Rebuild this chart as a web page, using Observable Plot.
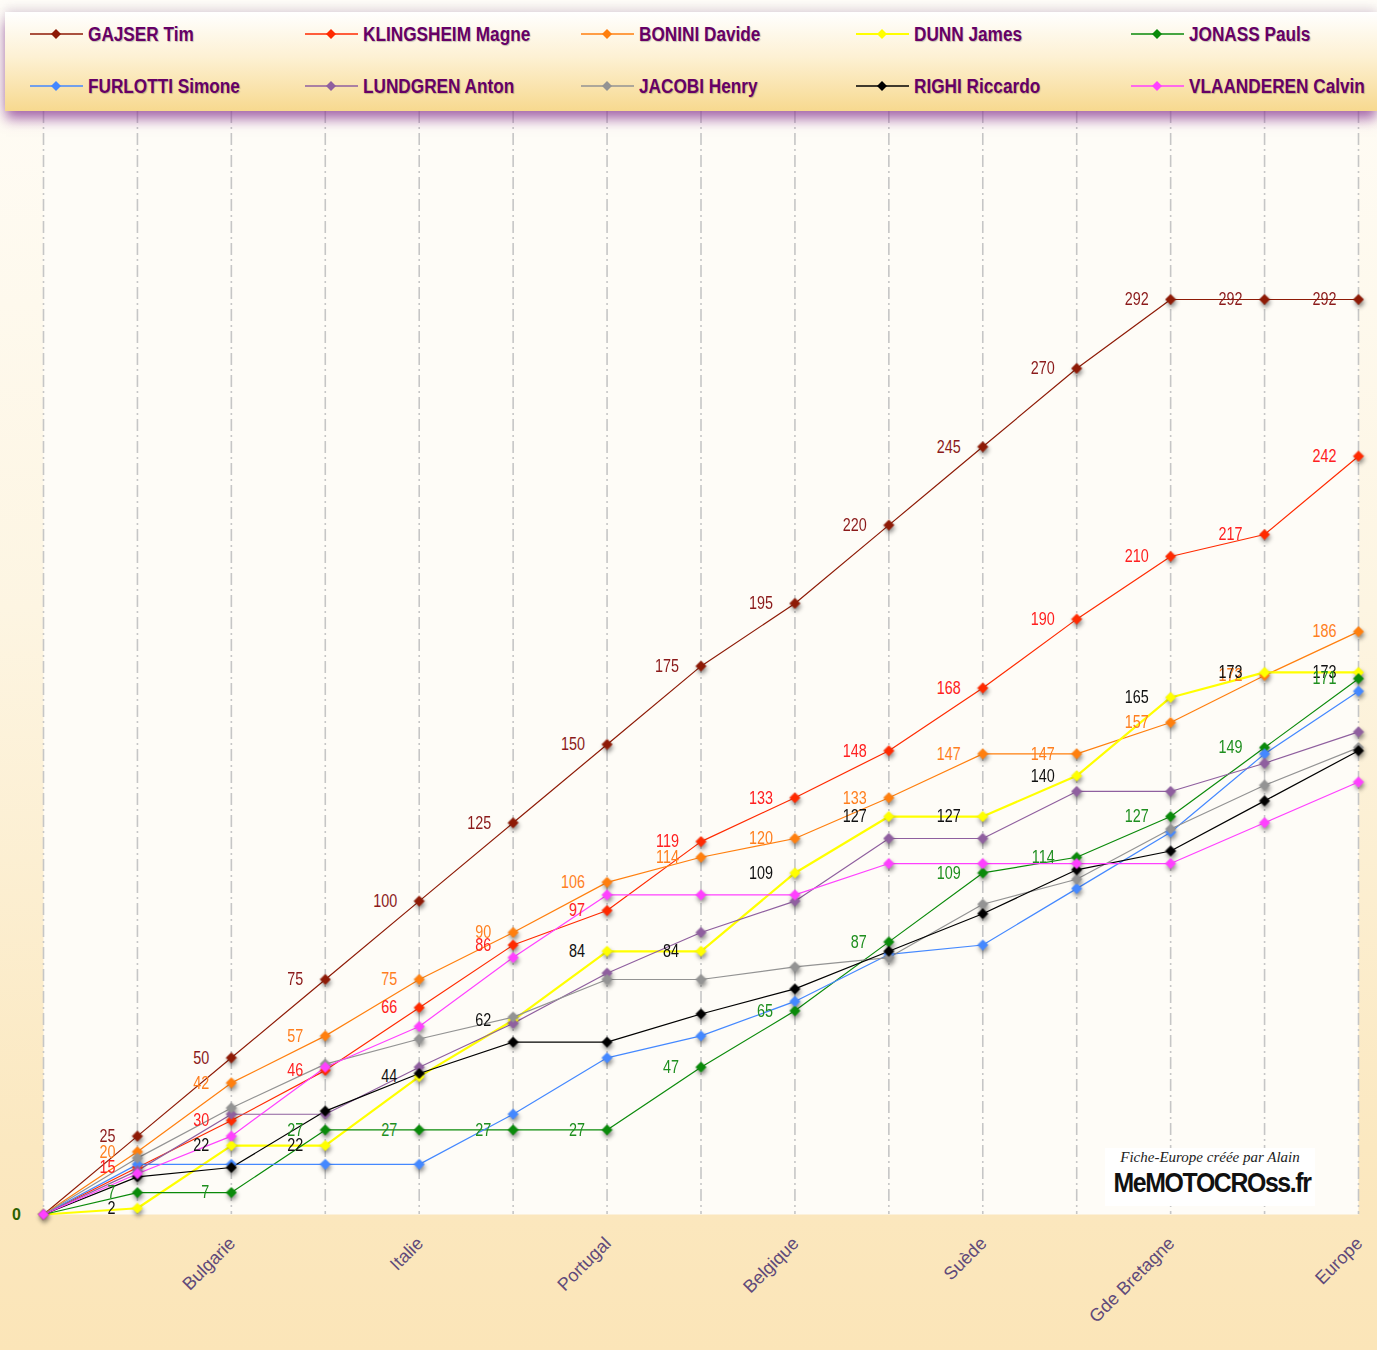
<!DOCTYPE html>
<html>
<head>
<meta charset="utf-8">
<script src="https://cdn.jsdelivr.net/npm/d3@7"></script>
<script src="https://cdn.jsdelivr.net/npm/@observablehq/plot@0.6"></script>
<style>
  body { margin: 0; }
  #wrap { position: relative; width: 1377px; height: 1350px; overflow: hidden;
    background: linear-gradient(to bottom, #fffdf8 0%, #fdf5e2 45%, #fbe8c0 85%, #fbe5b8 100%); }
  #legend { position: absolute; z-index: 2; left: 5px; top: 12px; width: 1372px; height: 99px;
    background: linear-gradient(to bottom, #ffffff 0%, #fdf1d4 45%, #f7d98f 100%);
    box-shadow: 0 9px 12px -1px rgba(140, 60, 150, 0.75), 0 -3px 10px rgba(120, 90, 130, 0.22); }
  .item { position: absolute; height: 24px; }
  .item svg { position: absolute; left: 0; top: 6px; }
  .item span { position: absolute; left: 58px; top: 0; white-space: nowrap;
    font: bold 20px "Liberation Sans", Arial, sans-serif; color: #660066;
    transform: scaleX(0.86); transform-origin: 0 50%;
    text-shadow: 1px 1px 1px rgba(0,0,0,0.22); line-height: 24px; }
  #chart { position: absolute; left: 0; top: 111px; }
  #mark { position: absolute; left: 1105px; top: 1148px; width: 210px; height: 58px; background: #ffffff; text-align: center; }
  #mark .l1 { font: italic 15px "Liberation Serif", serif; color: #222; margin-top: 1px; }
  #mark .l2 { font: bold 27px "Liberation Sans", sans-serif; color: #111; letter-spacing: -1.5px; line-height: 34px;
    display: inline-block; transform: scaleX(0.92); }
</style>
</head>
<body>
<div id="wrap">
  <div id="legend"></div>
  <div id="chart"></div>
  <div id="mark"><div class="l1">Fiche-Europe créée par Alain</div><div class="l2">MeMOTOCROss.fr</div></div>
</div>
<script>
// ---- data ----
const rounds = ["", "", "Bulgarie", "", "Italie", "", "Portugal", "", "Belgique", "", "Suède", "", "Gde Bretagne", "", "Europe"];
const riders = ["GAJSER  Tim", "KLINGSHEIM Magne", "BONINI Davide", "DUNN James", "JONASS Pauls",
                "FURLOTTI Simone", "LUNDGREN Anton", "JACOBI Henry", "RIGHI Riccardo", "VLAANDEREN Calvin"];
const gajser     = [0, 25, 50, 75, 100, 125, 150, 175, 195, 220, 245, 270, 292, 292, 292];
const klingsheim = [0, 15, 30, 46, 66, 86, 97, 119, 133, 148, 168, 190, 210, 217, 242];
const bonini     = [0, 20, 42, 57, 75, 90, 106, 114, 120, 133, 147, 147, 157, 172, 186];
const dunn       = [0, 2, 22, 22, 44, 62, 84, 84, 109, 127, 127, 140, 165, 173, 173];
const jonass     = [0, 7, 7, 27, 27, 27, 27, 47, 65, 87, 109, 114, 127, 149, 171];
const furlotti   = [0, 16, 16, 16, 16, 32, 50, 57, 68, 83, 86, 104, 122, 147, 167];
const lundgren   = [0, 14, 32, 32, 47, 61, 77, 90, 100, 120, 120, 135, 135, 144, 154];
const jacobi     = [0, 18, 34, 48, 56, 63, 75, 75, 79, 82, 99, 107, 123, 137, 149];
const righi      = [0, 12, 15, 33, 45, 55, 55, 64, 72, 84, 96, 110, 116, 132, 148];
const vlaanderen = [0, 13, 25, 47, 60, 82, 102, 102, 102, 112, 112, 112, 112, 125, 138];
const seriesValues = [gajser, klingsheim, bonini, dunn, jonass, furlotti, lundgren, jacobi, righi, vlaanderen];

// ---- styles ----
const colors = ["#8e1a06", "#ff2a00", "#ff7f0e", "#ffff00", "#0a8a0a", "#4488ff", "#8f5f9f", "#939393", "#000000", "#ff40ff"];
const labelColors = ["#8b1a1a", "#ff2020", "#ff7f1f", "#111111", "#1f8f1f"]; // first 5 riders are labelled

const data = [];
riders.forEach((name, si) => seriesValues[si].forEach((v, i) => data.push({name, si, i, v})));

// ---- legend ----
const legend = d3.select("#legend");
riders.forEach((name, si) => {
  const col = si % 5, row = Math.floor(si / 5);
  const it = legend.append("div").attr("class", "item")
    .style("left", (25 + col * 275.25) + "px").style("top", (10 + row * 52) + "px");
  const sw = it.append("svg").attr("width", 54).attr("height", 12);
  sw.append("line").attr("x1", 0).attr("x2", 53).attr("y1", 6).attr("y2", 6)
    .attr("stroke", colors[si]).attr("stroke-width", si === 3 ? 2 : 1.5);
  sw.append("path").attr("d", "M26,1L31,6L26,11L21,6Z").attr("fill", colors[si]);
  it.append("span").text(name);
});

// ---- chart ----
const idx = d3.range(rounds.length);
const lineMarks = riders.map((name, si) =>
  Plot.line(data.filter(d => d.si === si), {x: "i", y: "v", stroke: colors[si], strokeWidth: si === 3 ? 2.2 : 1.2}));
const labelMarks = labelColors.map((c, si) =>
  Plot.text(data.filter(d => d.si === si && d.i > 0), {x: "i", y: "v", text: d => String(d.v),
    fill: c, textAnchor: "end", dx: -22, fontSize: 18,
    fontFamily: '"Liberation Sans", Arial, sans-serif'}));

const chart = Plot.plot({
  width: 1377, height: 1239,
  marginLeft: 43, marginRight: 19, marginTop: 0, marginBottom: 136,
  x: {type: "point", domain: idx, padding: 0, round: false, axis: null},
  y: {domain: [0, 352], axis: null},
  color: {domain: riders, range: colors},
  style: {background: "transparent", overflow: "visible"},
  marks: [
    Plot.frame({fill: "#fefcf7", stroke: null}),
    Plot.ruleX(idx, {stroke: "#c6c6c6", strokeWidth: 1.6, strokeDasharray: "12,4,2,4"}),
    ...lineMarks,
    Plot.dot(data, {x: "i", y: "v", fill: "name", stroke: "name", strokeWidth: 0.8, symbol: "diamond2", r: 4.6}),
    ...labelMarks,
    Plot.text(idx.filter(i => rounds[i] !== ""), {x: d => d, frameAnchor: "bottom", text: d => rounds[d],
      rotate: -45, textAnchor: "end", dx: 5, dy: 30, fill: "#5f4a7a", fontSize: 18,
      fontFamily: '"Liberation Sans", Arial, sans-serif'}),
    Plot.text([0], {x: () => 0, y: d => d, text: d => String(d), dx: -27, fill: "#2d6000",
      fontWeight: "bold", fontSize: 16, fontFamily: '"Liberation Sans", Arial, sans-serif'})
  ]
});
chart.querySelectorAll('g[aria-label="dot"]').forEach(g => g.style.filter = "drop-shadow(1px 3px 2px rgba(0,0,0,0.45))");
document.getElementById("chart").appendChild(chart);
// condense the value labels (narrow face look)
const textGroups = chart.querySelectorAll('g[aria-label="text"]');
for (let k = 0; k < labelColors.length; k++) {
  textGroups[k].querySelectorAll("text").forEach(t => {
    const len = t.getComputedTextLength();
    t.setAttribute("textLength", (len * 0.8).toFixed(1));
    t.setAttribute("lengthAdjust", "spacingAndGlyphs");
  });
}
</script>
</body>
</html>
